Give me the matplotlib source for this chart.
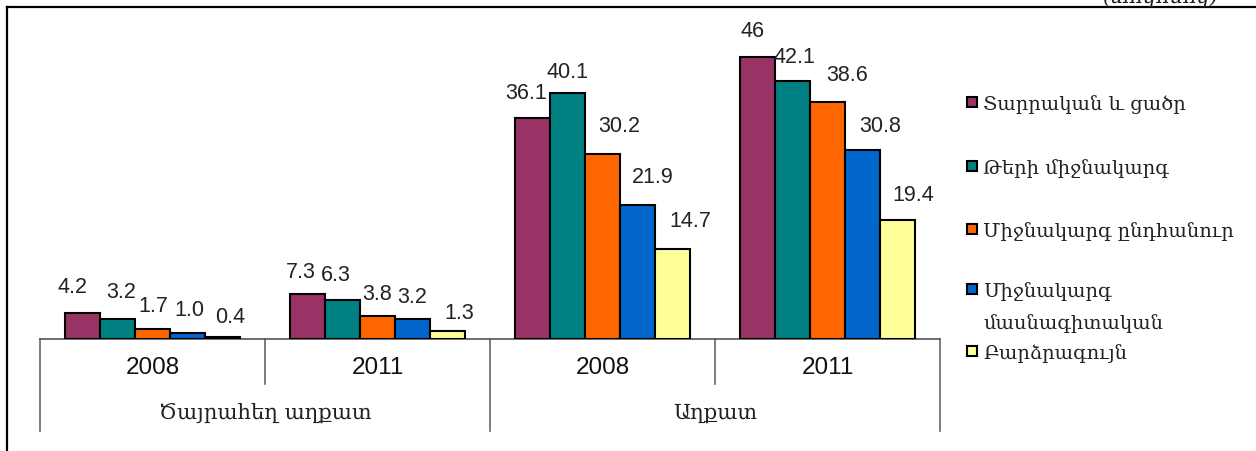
"""Grouped bar chart: share by education level, extreme poor vs poor, 2008/2011."""
import matplotlib
matplotlib.use("Agg")
import matplotlib.pyplot as plt
from matplotlib.lines import Line2D
from matplotlib.patches import Rectangle
import numpy as np

# ── data ────────────────────────────────────────────────────────────
years = ["2008", "2011", "2008", "2011"]
groups = ["Ծայրահեղ աղքատ", "Աղքատ"]
series = [
    "Տարրական և ցածր",
    "Թերի միջնակարգ",
    "Միջնակարգ ընդհանուր",
    "Միջնակարգ\nմասնագիտական",
    "Բարձրագույն",
]
primary_low = [4.2, 7.3, 36.1, 46.0]
incomplete_secondary = [3.2, 6.3, 40.1, 42.1]
general_secondary = [1.7, 3.8, 30.2, 38.6]
vocational_secondary = [1.0, 3.2, 21.9, 30.8]
higher = [0.4, 1.3, 14.7, 19.4]
values = [primary_low, incomplete_secondary, general_secondary,
          vocational_secondary, higher]
unit_note = "(տոկոսով)"

# ── style ───────────────────────────────────────────────────────────
colors = ["#993366", "#008080", "#FF6600", "#0066CC", "#FFFF99"]
# label nudges in pixels (dx right, dy up-negative) per series x category
label_dx = [[-10, -7, -6, -5], [4, -7, 0, 2], [1, 0, 17, 20],
            [1.5, 0, 15, 18], [7.5, 12, 18, 16]]
label_dy = [[-27, -23, -25, -27], [-28, -26, -22, -24], [-23, -22, -28, -28],
            [-23, -23, -28, -25], [-20, -19, -28, -26]]

W, H = 1256, 452
NUM_FONT = "Liberation Sans"
ARM_FONT = ["DejaVu Serif", "DejaVu Sans"]


def fx(px):
    return px / W


def fy(py):
    return 1 - py / H


fig = plt.figure(figsize=(W / 100, H / 100), dpi=100)
ax = fig.add_axes([fx(40), fy(340), fx(900), 306.5 / H])

n_series = len(series)
bar_w = 35 / 225
x = np.arange(len(years))
for i, (vals, c) in enumerate(zip(values, colors)):
    pos = x - bar_w * n_series / 2 + bar_w * (i + 0.5)
    ax.bar(pos, vals, width=bar_w, color=c, edgecolor="black",
           linewidth=1.5, zorder=3)
    for j, (p, v) in enumerate(zip(pos, vals)):
        txt = f"{v:g}" if v == int(v) and v > 10 else f"{v:.1f}"
        ax.annotate(txt, (p, v),
                    xytext=(label_dx[i][j] * 0.72, -label_dy[i][j] * 0.72),
                    textcoords="offset points", ha="center", va="center",
                    fontsize=15.5, family=NUM_FONT, color="#222222")

ax.set_xlim(-0.5, len(years) - 0.5)
ax.set_ylim(0, 50)
for s in ["top", "right", "left"]:
    ax.spines[s].set_visible(False)
ax.spines["bottom"].set_color("#555555")
ax.spines["bottom"].set_linewidth(1.2)
ax.set_xticks([])
ax.set_yticks([])

# multi-level category axis
trans = ax.get_xaxis_transform()
long_drop = -(432 - 340) / 306.5
short_drop = -(385 - 340) / 306.5
for k in range(len(years) + 1):
    xb = k - 0.5
    drop = long_drop if k % 2 == 0 else short_drop
    ax.add_line(Line2D([xb, xb], [0, drop], transform=trans, color="#666666",
                       linewidth=1.2, clip_on=False))
for j, yr in enumerate(years):
    ax.text(j, -(368 - 340) / 306.5, yr, transform=trans, ha="center",
            va="center", fontsize=17.5, family=NUM_FONT, color="#111111")
for g, name in enumerate(groups):
    ax.text(2 * g + 0.5, -(413 - 340) / 306.5, name, transform=trans,
            ha="center", va="center", fontsize=15.3, family=ARM_FONT,
            color="#222222")

# legend drawn by hand so the two-line entry keeps its marker on line one
legend_y = [103, 167, 230, 290, 352]
for name, c, ly in zip(series, colors, legend_y):
    fig.add_artist(Rectangle((fx(967), fy(ly + 5)), fx(10), 10 / H,
                             transform=fig.transFigure, facecolor=c,
                             edgecolor="black", linewidth=1.5))
    for li, line in enumerate(name.split("\n")):
        fig.text(fx(983), fy(ly + li * 32), line, ha="left",
                 va="center_baseline", fontsize=14, family=ARM_FONT,
                 color="#222222")

# frame lines (top and left) and clipped unit note
fig.add_artist(Line2D([fx(7), 1], [fy(8), fy(8)], transform=fig.transFigure,
                      color="black", linewidth=1.6))
fig.add_artist(Line2D([fx(7), fx(7)], [fy(8), 0], transform=fig.transFigure,
                      color="black", linewidth=1.6))
fig.text(fx(1218), fy(3), unit_note, ha="right", va="baseline", fontsize=15,
         family=ARM_FONT, style="italic", color="#222222")

fig.savefig("out.png", dpi=100)
